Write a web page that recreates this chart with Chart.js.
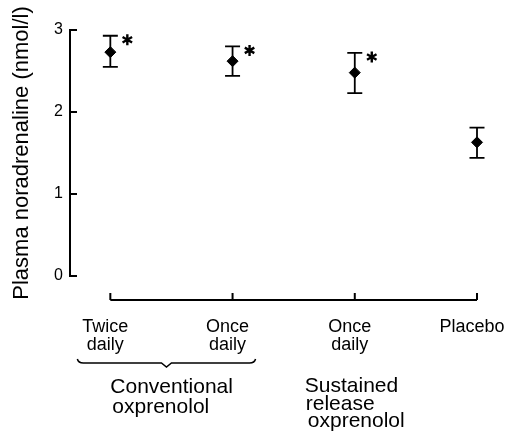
<!DOCTYPE html>
<html>
<head>
<meta charset="utf-8">
<script src="https://cdn.jsdelivr.net/npm/chart.js@4"></script>
<style>
  body { margin: 0; background: #fff; }
  canvas { display: block; }
</style>
</head>
<body>
<canvas id="chart" width="506" height="432"></canvas>
<script>
// treatment groups (x categories)
const categories = [['Twice', 'daily'], ['Once', 'daily'], ['Once', 'daily'], ['Placebo']]
// plasma noradrenaline, nmol/l
const means = [2.73, 2.62, 2.48, 1.63]
const upper = [2.93, 2.80, 2.72, 1.81]
const lower = [2.55, 2.44, 2.23, 1.44]
const significant = [true, true, true, false]
const yTicks = [0, 1, 2, 3]
const groupLabels = [['Conventional', 'oxprenolol'], ['Sustained', 'release', 'oxprenolol']]

const FONT = '"Liberation Sans", Arial, sans-serif'

const decor = {
    id: 'decor',
    beforeDatasetsDraw(chart) {
        const { ctx, scales: { x, y } } = chart
        ctx.save()
        ctx.strokeStyle = '#000'
        ctx.lineWidth = 1.8
        means.forEach((m, i) => {
            const px = x.getPixelForValue(i)
            const top = y.getPixelForValue(upper[i])
            const bot = y.getPixelForValue(lower[i])
            ctx.beginPath()
            ctx.moveTo(px, top); ctx.lineTo(px, bot)
            ctx.moveTo(px - 7.5, top); ctx.lineTo(px + 7.5, top)
            ctx.moveTo(px - 7.5, bot); ctx.lineTo(px + 7.5, bot)
            ctx.stroke()
        })
        ctx.restore()
    },
    afterDraw(chart) {
        const { ctx, scales: { x, y }, chartArea } = chart
        ctx.save()
        ctx.strokeStyle = '#000'
        ctx.fillStyle = '#000'

        // y ticks point inward
        ctx.lineWidth = 2
        yTicks.forEach(v => {
            const py = Math.round(y.getPixelForValue(v))
            ctx.beginPath()
            ctx.moveTo(chartArea.left, py)
            ctx.lineTo(chartArea.left + 7, py)
            ctx.stroke()
        })

        // detached x axis with upward ticks
        const ay = chartArea.bottom + 24
        const p = categories.map((c, i) => x.getPixelForValue(i))
        ctx.beginPath()
        ctx.moveTo(p[0], ay); ctx.lineTo(p[p.length - 1], ay)
        p.forEach(px => { ctx.moveTo(px, ay); ctx.lineTo(px, ay - 7) })
        ctx.stroke()

        // asterisks
        ctx.lineWidth = 2.4
        significant.forEach((s, i) => {
            if (!s) return
            const cx = x.getPixelForValue(i) + 17
            const cy = y.getPixelForValue(upper[i]) + 4
            const r = 5.5
            ctx.beginPath()
            for (let k = 0; k < 3; k++) {
                const a = Math.PI / 2 + k * Math.PI / 3
                ctx.moveTo(cx - r * Math.cos(a), cy - r * Math.sin(a))
                ctx.lineTo(cx + r * Math.cos(a), cy + r * Math.sin(a))
            }
            ctx.stroke()
        })

        // brace under the conventional group
        const bl = p[0] - 33, br = p[1] + 23, bm = (bl + br) / 2, by = ay + 63
        ctx.lineWidth = 1.5
        ctx.beginPath()
        ctx.moveTo(bl, by - 4)
        ctx.quadraticCurveTo(bl + 1, by, bl + 6, by)
        ctx.lineTo(bm - 5, by)
        ctx.lineTo(bm, by + 4)
        ctx.lineTo(bm + 5, by)
        ctx.lineTo(br - 6, by)
        ctx.quadraticCurveTo(br - 1, by, br, by - 4)
        ctx.stroke()

        // group captions
        ctx.font = '21px ' + FONT
        ctx.textAlign = 'left'
        ctx.textBaseline = 'alphabetic'
        groupLabels[0].forEach((t, k) => ctx.fillText(t, p[0] + (k ? 2 : 0), ay + 93 + k * 20))
        groupLabels[1].forEach((t, k) => ctx.fillText(t, p[2] - 50 + (k === 2 ? 3 : k), ay + 92 + k * 17.5))
        ctx.restore()
    }
}

const ctx = document.getElementById('chart').getContext('2d')
const chart = new Chart(ctx, {
    type: 'scatter',
    data: {
        datasets: [{
            data: means.map((m, i) => ({ x: i, y: m })),
            pointStyle: 'rectRot',
            radius: 5.5,
            backgroundColor: '#000',
            borderColor: '#000',
            borderWidth: 1,
            clip: false
        }]
    },
    options: {
        responsive: false,
        animation: false,
        layout: { padding: { top: 30, right: 29, left: 0, bottom: 0 } },
        plugins: { legend: { display: false }, tooltip: { enabled: false } },
        scales: {
            x: {
                type: 'linear',
                min: -0.33,
                max: 3,
                grid: { display: false, drawTicks: false },
                border: { display: false },
                afterBuildTicks: s => { s.ticks = categories.map((c, i) => ({ value: i })) },
                afterFit: s => { s.height = 156; s.paddingLeft = 0; s.paddingRight = 0 },
                ticks: {
                    padding: 42,
                    labelOffset: -5,
                    color: '#000',
                    font: { family: FONT, size: 18, lineHeight: 1 },
                    callback: v => categories[v]
                }
            },
            y: {
                min: 0,
                max: 3,
                grid: { display: false, drawTicks: false },
                border: { display: true, color: '#000', width: 2 },
                afterFit: s => { s.width = 70 },
                ticks: {
                    stepSize: 1,
                    padding: 7,
                    color: '#000',
                    font: { family: FONT, size: 16 }
                },
                title: {
                    display: true,
                    text: 'Plasma noradrenaline (nmol/l)',
                    color: '#000',
                    font: { family: FONT, size: 22 },
                    padding: { top: 9, bottom: 0 }
                }
            }
        }
    },
    plugins: [decor]
})
</script>
</body>
</html>
